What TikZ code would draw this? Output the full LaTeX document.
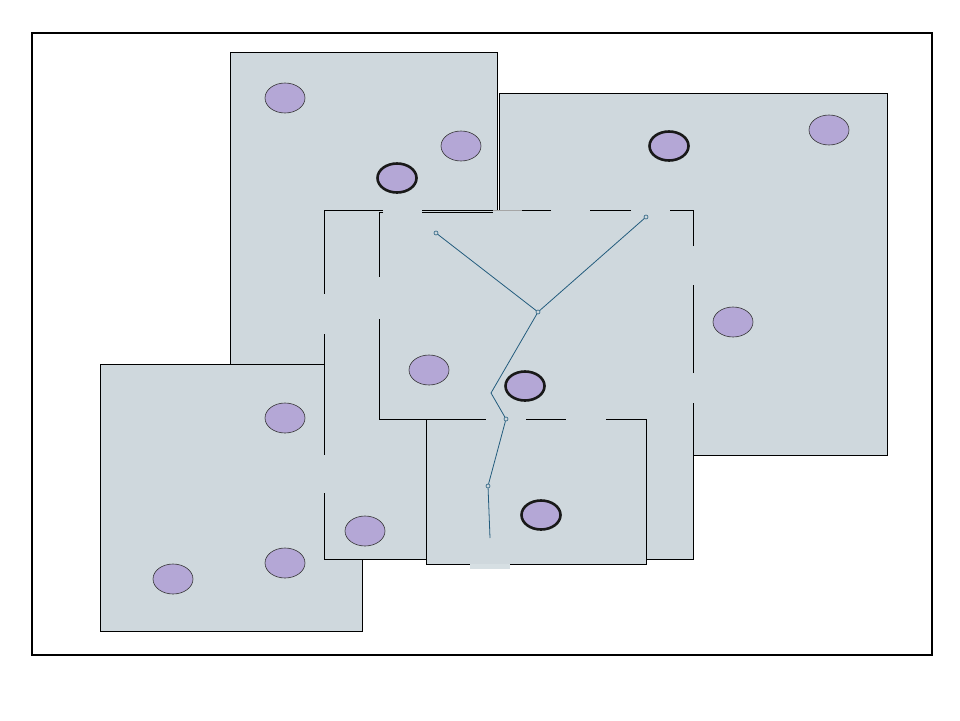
\documentclass[tikz,border=0pt]{standalone}
\usetikzlibrary{shapes.geometric}
\definecolor{panelfill}{RGB}{207,216,221}
\definecolor{patchfill}{RGB}{214,223,227}
\definecolor{sitefill}{RGB}{180,167,214}
\definecolor{treeblue}{RGB}{35,92,125}
\begin{document}
\begin{tikzpicture}[
    x=1pt, y=-1pt,
    panel/.style={draw=black, fill=panelfill, line width=0.8pt},
    pfill/.style={fill=panelfill},
    edge/.style={black, line width=0.8pt},
    site/.style={ellipse, draw=black!80, fill=sitefill, line width=0.6pt,
                 minimum width=40pt, minimum height=30pt, inner sep=0pt},
    hub/.style={site, draw=black!90, line width=2.6pt,
                minimum width=39pt, minimum height=29pt},
    tnode/.style={circle, draw=treeblue, fill=panelfill, line width=0.6pt,
                  minimum size=4pt, inner sep=0pt},
    tedge/.style={treeblue, line width=0.8pt},
]
\useasboundingbox (0,0) rectangle (960,720);

% Outer frame
\draw[line width=1.5pt, fill=white] (32,33) rectangle (932,655);

% Back panels
\draw[panel] (230,52) rectangle (497,365);
\draw[panel] (499,93) rectangle (887,455);
\draw[panel] (100,364) rectangle (362,631);

% Middle panel (broken outline)
\fill[pfill] (324,210) rectangle (693,559);
\draw[edge] (383,210) -- (324,210) -- (324,294);
\draw[edge] (324,334) -- (324,455);
\draw[edge] (324,493) -- (324,559) -- (693,559) -- (693,403);
\draw[edge] (693,373) -- (693,285);
\draw[edge] (693,246) -- (693,210) -- (670,210);
\draw[edge] (631,210) -- (590,210);
\draw[edge] (551,210) -- (522,210);
\draw[gray!70, line width=0.8pt] (522,210) -- (493,210);
\draw[edge] (493,210) -- (422,210);

% Inner panel (broken outline)
\draw[edge] (383,212) -- (379,212) -- (379,277);
\draw[edge] (379,319) -- (379,419) -- (486,419);
\draw[edge] (422,212) -- (493,212);
\draw[edge] (526,419) -- (566,419);
\draw[edge] (606,419) -- (646,419);

% Lower panel
\fill[pfill] (426,420) rectangle (646,564);
\draw[edge] (426,419) -- (426,564) -- (646,564) -- (646,419);
\fill[patchfill] (470,564) rectangle (510,569);

% Sites
\node[site] (s1) at (285,98) {};
\node[site] (s2) at (461,146) {};
\node[site] (s3) at (829,130) {};
\node[site] (s4) at (733,322) {};
\node[site] (s5) at (429,370) {};
\node[site] (s6) at (285,418) {};
\node[site] (s7) at (365,531) {};
\node[site] (s8) at (285,563) {};
\node[site] (s9) at (173,579) {};
\node[hub] (h1) at (397,178) {};
\node[hub] (h2) at (669,146) {};
\node[hub] (h3) at (525,386) {};
\node[hub] (h4) at (541,515) {};

% Tree
\node[tnode] (ta) at (436,233) {};
\node[tnode] (tb) at (646,217) {};
\node[tnode] (tc) at (538,312) {};
\coordinate (td) at (491,393);
\node[tnode] (te) at (506,419) {};
\node[tnode] (tf) at (488,486) {};
\coordinate (tg) at (490,538);
\draw[tedge] (ta) -- (tc);
\draw[tedge] (tb) -- (tc);
\draw[tedge] (tc) -- (td) -- (te);
\draw[tedge] (te) -- (tf);
\draw[tedge] (tf) -- (tg);
\end{tikzpicture}
\end{document}
